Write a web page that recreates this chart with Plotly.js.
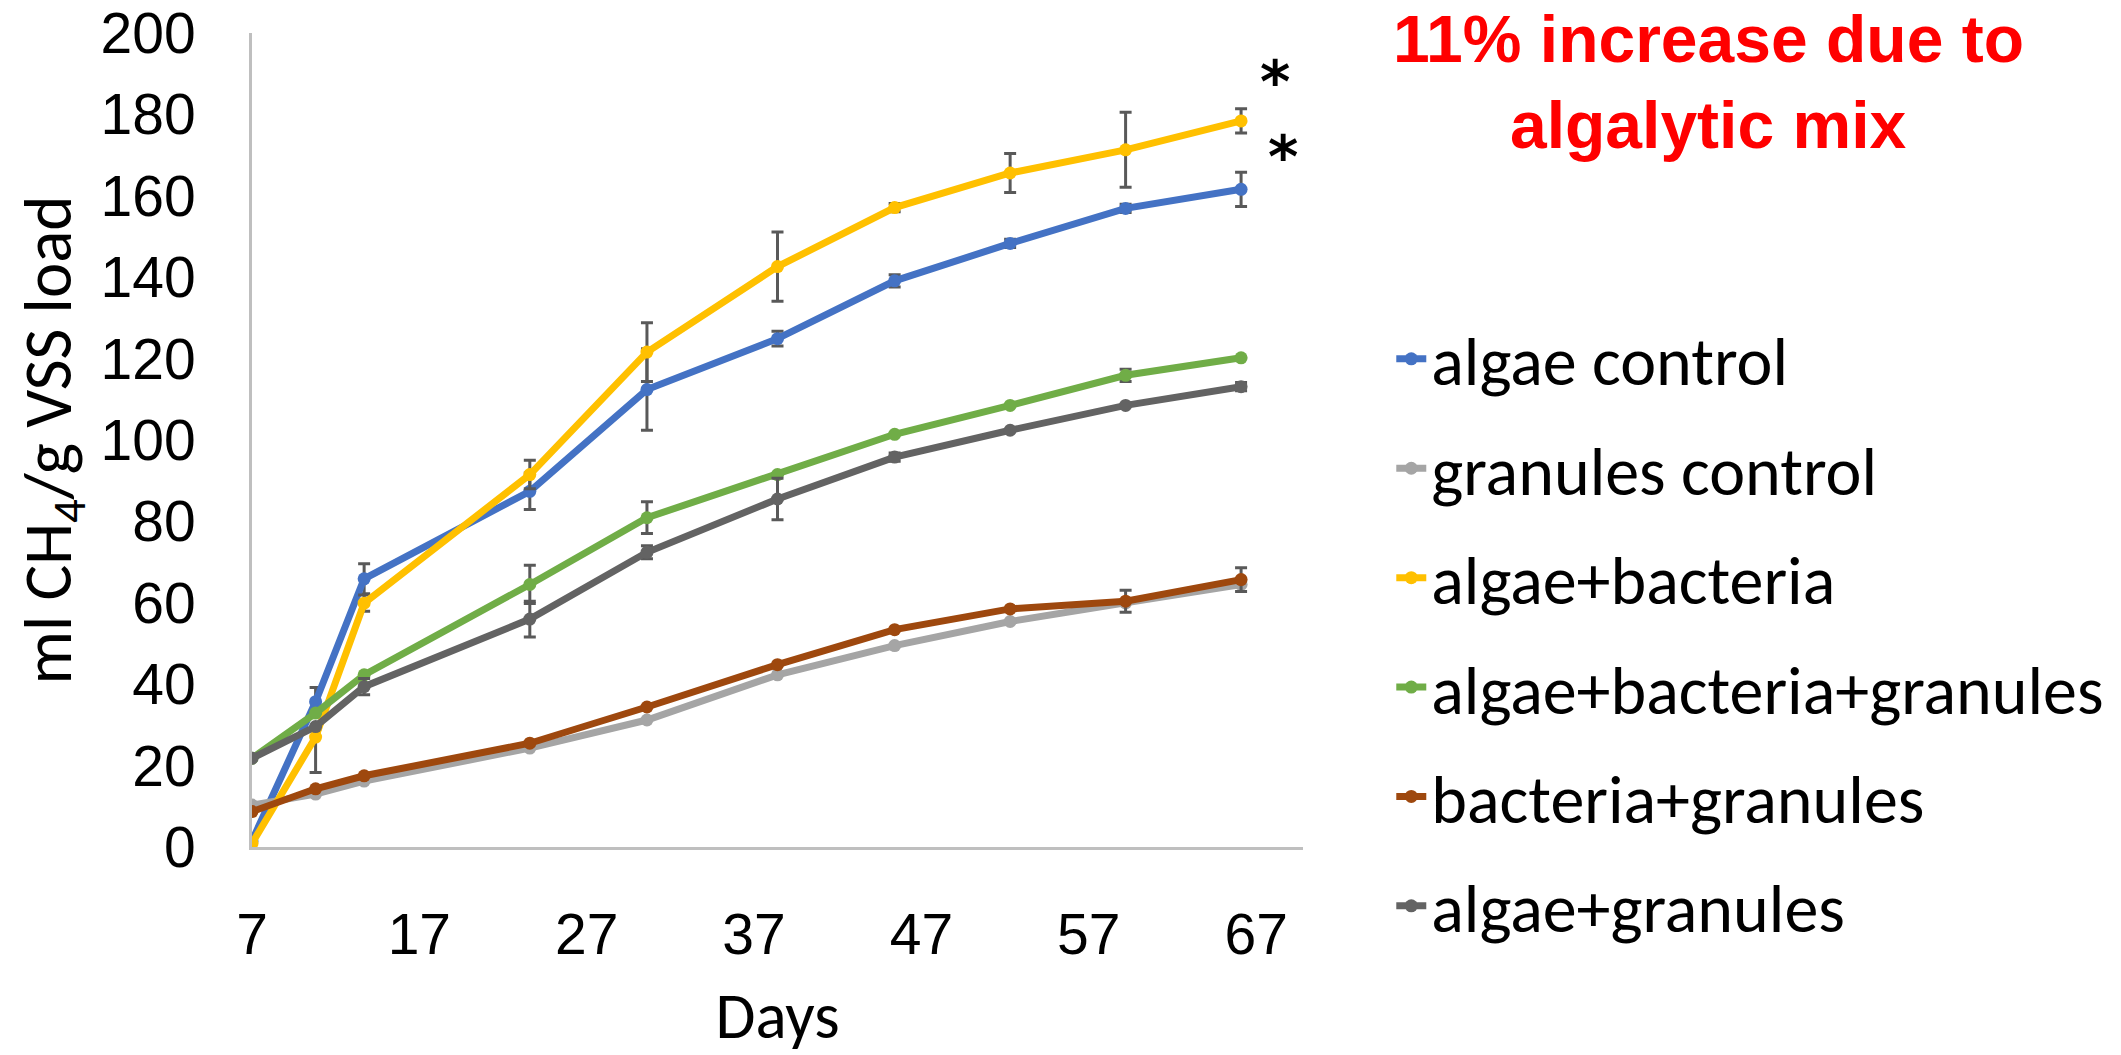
<!DOCTYPE html>
<html>
<head>
<meta charset="utf-8">
<script src="https://cdn.plot.ly/plotly-3.0.1.min.js"></script>
<style>html,body{margin:0;padding:0;background:#fff;}#chart{width:2121px;height:1055px;}</style>
</head>
<body>
<div id="chart"></div>
<script>
const days = [7, 10.8, 13.7, 23.6, 30.6, 38.4, 45.4, 52.3, 59.2, 66.1];

// Series values (ml CH4 / g VSS load)
const algaeControl      = [1.5, 35.7, 65.9, 87.4, 112.4, 124.9, 139.1, 148.3, 156.9, 161.6];
const granulesControl   = [10.3, 13.0, 16.2, 24.3, 31.2, 42.3, 49.5, 55.4, 60.0, 64.5];
const algaeBacteria     = [0.9, 27.0, 59.9, 91.5, 121.6, 142.6, 157.1, 165.6, 171.3, 178.4];
const algaeBactGran     = [21.8, 32.9, 42.3, 64.5, 80.9, 91.5, 101.4, 108.5, 115.9, 120.2];
const bacteriaGranules  = [8.7, 14.3, 17.5, 25.5, 34.4, 44.8, 53.4, 58.5, 60.4, 65.7];
const algaeGranules     = [21.8, 29.6, 39.4, 56.0, 72.4, 85.5, 95.8, 102.4, 108.5, 113.1];

// Error bar magnitudes (0 = none visible)
const errAlgaeControl     = [0, 3.5, 3.7, 4.5, 10.0, 1.8, 1.5, 1.0, 1.0, 4.2];
const errGranulesControl  = [0, 0, 0, 0, 0, 0, 0, 0, 0, 0];
const errAlgaeBacteria    = [0, 2.0, 2.0, 3.5, 7.2, 8.5, 1.0, 4.8, 9.2, 3.0];
const errAlgaeBacteriaMin = [0, 8.7, 2.0, 3.5, 7.2, 8.5, 1.0, 4.8, 9.2, 3.0];
const errAlgaeBactGran    = [0, 0, 0, 4.7, 3.9, 0, 0, 0, 1.5, 0];
const errBacteriaGran     = [0, 0, 0, 0, 0, 0, 0, 0, 2.7, 2.9];
const errAlgaeGranules    = [0, 0, 2.0, 4.4, 1.6, 5.1, 1.0, 0, 0, 1.0];

const seriesNames = ["algae control", "granules control", "algae+bacteria",
                     "algae+bacteria+granules", "bacteria+granules", "algae+granules"];
const seriesColors = ["#4472C4", "#A5A5A5", "#FFC000", "#70AD47", "#9E480E", "#636363"];

const yTicks = [0, 20, 40, 60, 80, 100, 120, 140, 160, 180, 200];
const xTicks = [7, 17, 27, 37, 47, 57, 67];

const titleLine1 = "11% increase due to";
const titleLine2 = "algalytic mix";

const FONT = "Calibri, Carlito, Lato, sans-serif";
const NUM_FONT = "'Liberation Sans', Arial, sans-serif";
const TITLE_FONT = "'Liberation Sans', Arial, sans-serif";

const values = [algaeControl, granulesControl, algaeBacteria, algaeBactGran, bacteriaGranules, algaeGranules];
const errs = [errAlgaeControl, errGranulesControl, errAlgaeBacteria, errAlgaeBactGran, errBacteriaGran, errAlgaeGranules];

const traces = values.map((v, i) => {
  const t = {
    type: "scatter",
    mode: "lines+markers",
    x: days,
    y: v,
    name: seriesNames[i],
    legendgroup: "g" + i,
    line: {color: seriesColors[i], width: 7},
    marker: {color: seriesColors[i], size: 13},
    error_y: {
      type: "data",
      array: errs[i],
      visible: errs[i].some(e => e > 0),
      color: "#595959",
      thickness: 3,
      width: 6
    }
  };
  if (i === 2) {
    t.error_y.symmetric = false;
    t.error_y.arrayminus = errAlgaeBacteriaMin;
  }
  return t;
});

const plotTop = 33, plotBottom = 847, plotLeft = 252, plotRight = 1310;
const plotH = plotBottom - plotTop, plotW = plotRight - plotLeft;
const titleX = (1718 - plotLeft) / plotW;
const py = px => 1 - (px - plotTop) / plotH;   // pixel row -> paper y

const layout = {
  width: 2121,
  height: 1055,
  paper_bgcolor: "#ffffff",
  plot_bgcolor: "#ffffff",
  margin: {l: plotLeft, r: 2121 - plotRight, t: plotTop, b: 1055 - plotBottom},
  font: {family: FONT, color: "#000000", size: 66},
  showlegend: true,
  legend: {
    x: 1.084, y: 0.662, xanchor: "left", yanchor: "top",
    font: {family: FONT, size: 68, color: "#000000"},
    tracegroupgap: 18,
    bgcolor: "rgba(0,0,0,0)"
  },
  xaxis: {
    range: [7, 69.8],
    tickmode: "array",
    tickvals: xTicks,
    ticktext: xTicks.map(String),
    showgrid: false,
    zeroline: false,
    showline: true,
    linecolor: "#BFBFBF",
    linewidth: 3,
    ticks: "outside",
    ticklen: 36,
    tickcolor: "rgba(0,0,0,0)",
    ticklabeloverflow: "allow",
    tickfont: {family: NUM_FONT, size: 57, color: "#000000"},
    title: {text: "Days", font: {family: FONT, size: 65, color: "#000000"}, standoff: 30}
  },
  yaxis: {
    range: [0, 200],
    tickmode: "array",
    tickvals: yTicks,
    ticktext: yTicks.map(String),
    showgrid: false,
    zeroline: false,
    showline: true,
    linecolor: "#BFBFBF",
    linewidth: 3,
    ticks: "outside",
    ticklen: 42,
    tickcolor: "rgba(0,0,0,0)",
    ticklabeloverflow: "allow",
    tickfont: {family: NUM_FONT, size: 57, color: "#000000"},
    title: {text: "ml CH<sub>4</sub>/g VSS load", font: {family: FONT, size: 67, color: "#000000"}, standoff: 8}
  },
  annotations: [
    {xref: "paper", yref: "paper", x: titleX, y: py(39), yanchor: "middle",
     xanchor: "center", text: "<b>" + titleLine1 + "</b>", showarrow: false,
     font: {family: TITLE_FONT, size: 66, color: "#FF0000"}},
    {xref: "paper", yref: "paper", x: titleX, y: py(125), yanchor: "middle",
     xanchor: "center", text: "<b>" + titleLine2 + "</b>", showarrow: false,
     font: {family: TITLE_FONT, size: 66, color: "#FF0000"}},
    {xref: "x", yref: "y", x: 68.15, y: 191, text: "<b>*</b>", showarrow: false,
     font: {family: "DejaVu Sans", size: 58, color: "#000000"}, yshift: -12},
    {xref: "x", yref: "y", x: 68.6, y: 172.5, text: "<b>*</b>", showarrow: false,
     font: {family: "DejaVu Sans", size: 58, color: "#000000"}, yshift: -12}
  ]
};

Plotly.newPlot("chart", traces, layout, {displayModeBar: false, staticPlot: true});
</script>
</body>
</html>
